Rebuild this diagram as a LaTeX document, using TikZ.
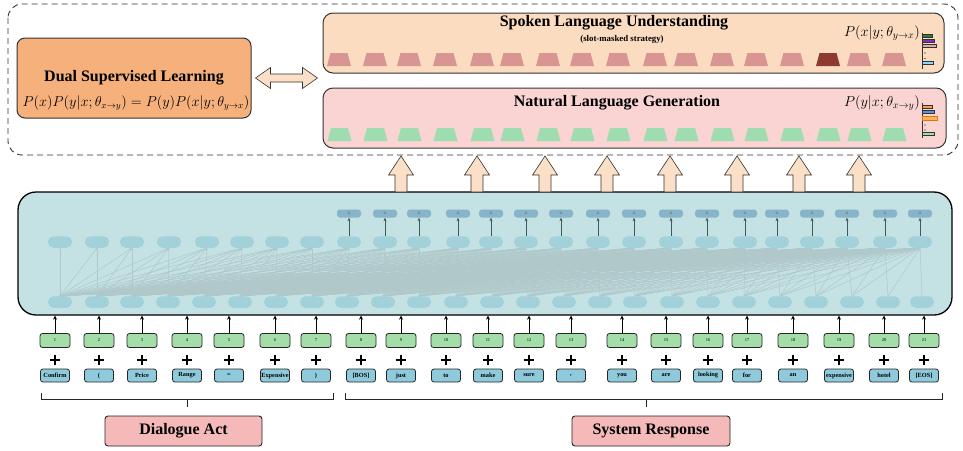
\documentclass[tikz,border=0pt]{standalone}
\usepackage{fontspec}
\setmainfont{Liberation Serif}
\usetikzlibrary{arrows.meta}

\definecolor{dualfill}{HTML}{F5B07B}
\definecolor{slufill}{HTML}{FBDCC0}
\definecolor{nlgfill}{HTML}{F9D4D3}
\definecolor{slutrap}{HTML}{D99591}
\definecolor{slutrapdark}{HTML}{8E3A31}
\definecolor{nlgtrap}{HTML}{9FDCB0}
\definecolor{trfill}{HTML}{C4E1E3}
\definecolor{hidfill}{HTML}{A3D1D9}
\definecolor{hfill}{HTML}{88B4C9}
\definecolor{attncol}{HTML}{B0C8CA}
\definecolor{harrowcol}{HTML}{3D5A5E}
\definecolor{numfill}{HTML}{A3DEA8}
\definecolor{tokfill}{HTML}{8ECADB}
\definecolor{labelfill}{HTML}{F4B9B8}
\definecolor{blockfill}{HTML}{FCDFC7}
\definecolor{edgecol}{HTML}{333333}

\pgfdeclarelayer{back}
\pgfdeclarelayer{mid}
\pgfsetlayers{back,mid,main}

\begin{document}
\begin{tikzpicture}[x=1pt,y=-1pt,
  frame/.style={draw=edgecol,line width=0.9pt,dash pattern=on 6pt off 4pt,rounded corners=14pt},
  modbox/.style={draw=edgecol,line width=1pt,rounded corners=10pt,inner sep=0pt},
  title/.style={font=\fontsize{16}{18}\selectfont\bfseries,inner sep=0pt},
  hid/.style={fill=hidfill,rounded corners=5.5pt,minimum width=24pt,minimum height=11.5pt,inner sep=0pt},
  hbox/.style={fill=hfill,rounded corners=3pt,minimum width=24pt,minimum height=8pt,inner sep=0pt,
    font=\fontsize{3.5}{4}\selectfont\bfseries,text=harrowcol!80},
  attn/.style={draw=attncol,line width=0.5pt,-{Stealth[length=2.5pt,width=2pt]}},
  harrow/.style={draw=harrowcol,line width=0.9pt,-{Stealth[length=3.5pt,width=3pt]}},
  numbox/.style={draw=black!85,fill=numfill,line width=0.8pt,rounded corners=2.5pt,
    minimum width=30pt,minimum height=14pt,inner sep=0pt,font=\fontsize{4.5}{5}\selectfont},
  tokbox/.style={draw=black!85,fill=tokfill,line width=0.8pt,rounded corners=2.5pt,
    minimum width=29pt,minimum height=13pt,inner sep=0pt,font=\fontsize{6.3}{7}\selectfont\bfseries},
  plussign/.style={minimum size=10.5pt,inner sep=0pt,
    path picture={\draw[black,line width=2.8pt]
      (path picture bounding box.north) -- (path picture bounding box.south)
      (path picture bounding box.west) -- (path picture bounding box.east);}},
  inarrow/.style={draw=black,line width=1pt,-{Stealth[length=4pt,width=4pt]}},
  bracket/.style={draw=black!85,line width=1pt},
  labelbox/.style={draw=black!85,fill=labelfill,line width=0.9pt,rounded corners=3pt,
    minimum width=157pt,minimum height=30pt,inner sep=0pt,font=\fontsize{16}{18}\selectfont\bfseries},
  blockarrow/.style={draw=edgecol,line width=0.6pt,fill=blockfill},
  bar/.style={draw=edgecol,line width=0.4pt},
  plabel/.style={inner sep=0pt,font=\fontsize{14}{16}\selectfont}
]
\useasboundingbox (0,0) rectangle (963,450);

% ---------- dual learning frame ----------
\draw[frame] (8,4) rectangle (958,155);

\node[modbox,fill=dualfill,rounded corners=8pt,minimum width=234pt,minimum height=80pt] (dsl) at (134,78) {};
\node[title] (dsltitle) at (134,78) {Dual Supervised Learning};
\node[inner sep=0pt,font=\fontsize{13.5}{16}\selectfont] (dslform) at (136,103)
  {$P(x)P\bigl(y\big|x;\theta_{x\rightarrow y}\bigr)=P(y)P(x|y;\theta_{y\rightarrow x})$};

% spoken language understanding
\node[modbox,fill=slufill,minimum width=621pt,minimum height=60pt] (slu) at (633.5,43) {};
\node[title] (slutitle) at (614,23) {Spoken Language Understanding};
\node[inner sep=0pt,font=\fontsize{8.8}{9}\selectfont\bfseries] (slusub) at (622,39) {(slot-masked strategy)};
\node[plabel,anchor=east] (slup) at (920,33) {$P(x|y;\theta_{y\rightarrow x})$};

% natural language generation
\node[modbox,fill=nlgfill,minimum width=623pt,minimum height=60pt] (nlg) at (634.5,118) {};
\node[title] (nlgtitle) at (617,103) {Natural Language Generation};
\node[plabel,anchor=east] (nlgp) at (920,103) {$P(y|x;\theta_{x\rightarrow y})$};

% output slots
\foreach \x [count=\k] in {339,375,409,445,482,512,548,582,618,655,686,722,756,792,828,859,894}{
  \ifnum\k=15 \def\tc{slutrapdark}\else\def\tc{slutrap}\fi
  \fill[\tc] (\x-12,66) -- (\x+12,66) -- (\x+8.5,53) -- (\x-8.5,53) -- cycle;
  \fill[nlgtrap] (\x-11.5,141) -- (\x+12.5,141) -- (\x+9,128) -- (\x-8,128) -- cycle;
}

% output distributions
\draw[edgecol,line width=0.6pt] (922,33) -- (922,69);
\draw[bar,fill=green!35!black!80] (922,34.5) rectangle (932,37.5);
\draw[bar,fill=violet!70!blue!80] (922,39.5) rectangle (934,42.5);
\draw[bar,fill=slutrap!80] (922,44.5) rectangle (936,47.5);
\fill[black] (925,53) circle (0.6) (925,58.5) circle (0.6);
\draw[bar,fill=cyan!45] (922,61.5) rectangle (933,64.5);

\draw[edgecol,line width=0.6pt] (922,103) -- (922,138);
\draw[bar,fill=orange!75] (922,105.5) rectangle (932,108.5);
\draw[bar,fill=cyan!60!blue!70] (922,110.5) rectangle (934,113.5);
\draw[draw=orange!90!black,line width=0.5pt,fill=orange!60] (922,116) rectangle (937,120);
\fill[black] (925,125) circle (0.6) (925,130) circle (0.6);
\draw[bar,fill=nlgtrap] (922,132.5) rectangle (934,135.5);

% exchange between the two tasks
\coordinate (xa) at (dsl.east);
\draw[blockarrow] ([xshift=4pt]xa) -- ++(15,-10.5) -- ++(0,6.5) -- ++(32,0) -- ++(0,-6.5)
  -- ++(15,10.5) -- ++(-15,10.5) -- ++(0,-6.5) -- ++(-32,0) -- ++(0,6.5) -- cycle;

% ---------- shared transformer ----------
\begin{pgfonlayer}{back}
\node[draw=black,line width=1.3pt,fill=trfill,rounded corners=18pt,minimum width=934pt,minimum height=123pt] (tr) at (485,253.5) {};
\end{pgfonlayer}

\foreach \x [count=\j] in {60,97,132,169,207,242,277,312,349,385,419,458,491,526,561,598,634,671,707,745,777,812,847,885,920}{
  \node[hid] (u\j) at (\x,242) {};
}
\foreach \x [count=\j] in {60,97,132,168,204,240,276,312,347,383,419,456,492,528,564,600,635,672,708,744,780,816,852,888,922}{
  \node[hid] (l\j) at (\x,302) {};
}
\foreach \j in {9,...,25}{
  \node[hbox] (h\j) at (u\j |- 0,213.5) {H};
  \draw[harrow] (u\j.north) -- (h\j.south);
}

\begin{pgfonlayer}{mid}
\foreach \i in {1,...,25}{
  \foreach \j in {\i,...,25}{
    \draw[attn] (l\i.north) -- (u\j.south);
  }
}
\end{pgfonlayer}

% block arrows into the task heads
\foreach \x [count=\k] in {401,477,545,607,670,737,799,859}{
  \coordinate (o\k) at (\x,192);
  \draw[blockarrow] ([xshift=-6pt]o\k) -- ([xshift=6pt]o\k) -- ++(0,-17) -- ++(6.5,0)
    -- ([yshift=36pt]o\k) -- ++(-12.5,19) -- ++(6.5,0) -- cycle;
}

% ---------- input embeddings ----------
\foreach \x/\w [count=\i] in {55/{Confirm},99/{(},142/{Price},187/{Range},229/{=},275/{Expensive},316/{)},
  361/{[BOS]},401/{just},446/{to},488/{make},529/{sure},571/{,},622/{you},666/{are},708/{looking},
  747/{for},793/{an},839/{expensive},884/{hotel},924/{[EOS]}}{
  \node[numbox] (n\i) at (\x,340.5) {\i};
  \node[plussign] (p\i) at (\x,360) {};
  \node[tokbox] (t\i) at (\x,375.5) {\w};
  \draw[inarrow] (n\i.north) -- (n\i.north |- tr.south);
}

% groupings
\draw[bracket] (41,393) -- (41,399) -- (333,399) -- (333,393);
\draw[bracket] (187,399) -- (187,407);
\draw[bracket] (345,393) -- (345,399) -- (942,399) -- (942,393);
\draw[bracket] (646,399) -- (646,407);

\node[labelbox] (da) at (183.5,431) {Dialogue Act};
\node[labelbox,minimum width=158pt] (sr) at (651,431) {System Response};
\end{tikzpicture}
\end{document}
